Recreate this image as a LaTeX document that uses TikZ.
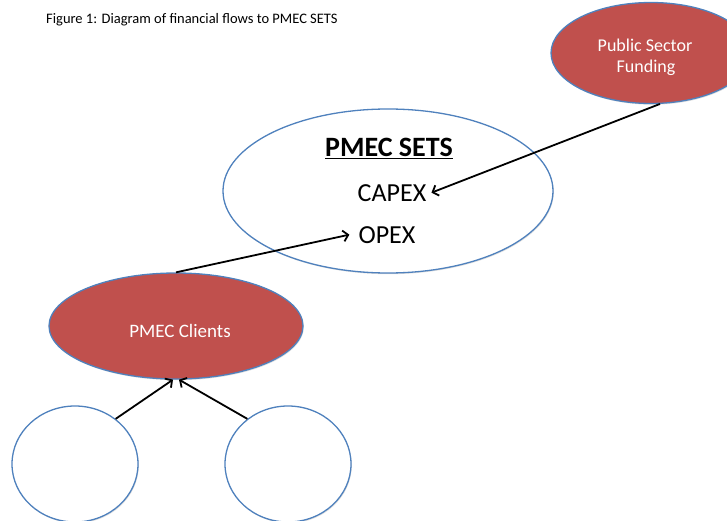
\documentclass[tikz,border=0pt]{standalone}
\usepackage{xcolor}
\usepackage{fontspec}
\setmainfont{Carlito}
\usepackage{tikz}
\usetikzlibrary{arrows,arrows.meta,shapes.geometric,shadows}

\definecolor{fundred}{HTML}{C0504D}
\definecolor{rimblue}{HTML}{4F81BD}

\tikzset{
  blob/.style={ellipse,draw=rimblue,line width=1.3pt,inner sep=0pt,
    drop shadow={shadow xshift=0.8pt,shadow yshift=-1.2pt,opacity=0.25}},
  redblob/.style={blob,fill=fundred,text=white},
  whiteblob/.style={blob,fill=white},
  flow/.style={-{Straight Barb[length=5pt,width=11pt,line width=1.8pt]},line width=1.8pt,black}
}

\begin{document}
\begin{tikzpicture}[x=1pt,y=-1pt,inner sep=1pt]
\useasboundingbox (0,0) rectangle (727,521);
\node[anchor=base west,font=\fontsize{14.5}{16}\selectfont] (cap) at (45,24) {Figure 1: Diagram of financial flows to PMEC SETS};

\node[redblob,minimum width=200pt,minimum height=101pt] (F) at (651,53) {};
\node[text=white,anchor=base,font=\fontsize{18}{21}\selectfont] (Ftxt) at (645,52) {Public Sector};
\node[text=white,anchor=base,font=\fontsize{18}{21}\selectfont] (Ftxt2) at (646,73) {Funding};

\node[whiteblob,minimum width=330pt,minimum height=164pt] (S) at (388,191) {};
\node[anchor=base,font=\bfseries\fontsize{28}{32}\selectfont] (Stit) at (389,157) {\underline{PMEC SETS}};
\node[anchor=base,font=\fontsize{26}{30}\selectfont] (capex) at (392,201) {CAPEX};
\node[anchor=base,font=\fontsize{26}{30}\selectfont] (opex) at (387,243) {OPEX};

\node[redblob,minimum width=254pt,minimum height=106pt] (C) at (176,326) {};
\node[text=white,anchor=base,font=\fontsize{19}{22}\selectfont] (Ctxt) at (180,337) {PMEC Clients};

\node[whiteblob,minimum width=126pt,minimum height=116pt] (L) at (75,464) {};
\node[whiteblob,minimum width=126pt,minimum height=116pt] (R) at (288,464) {};

\path (F.280) edge [flow] ([xshift=4pt]capex.east);
\path (C.north) edge [flow] ([xshift=-8pt]opex.west);
\path (L.48) edge [flow] ([xshift=-3pt]C.south);
\path (R.132) edge [flow] ([xshift=3pt]C.south);

\end{tikzpicture}
\end{document}
